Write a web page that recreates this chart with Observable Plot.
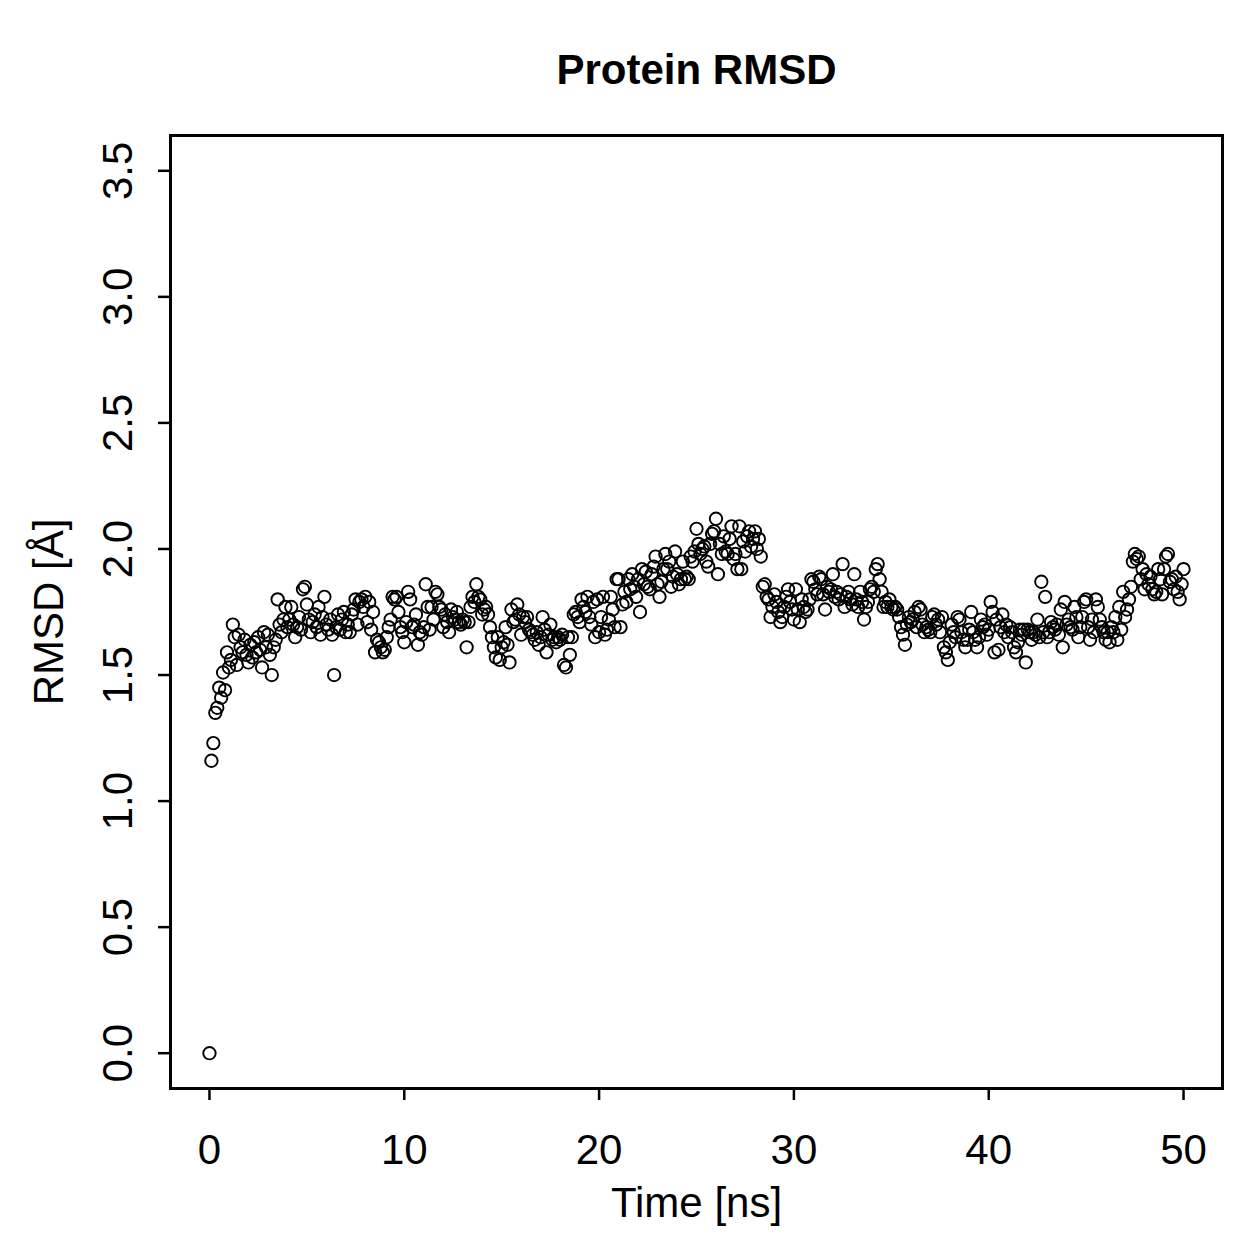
<!DOCTYPE html>
<html>
<head>
<meta charset="utf-8">
<script src="https://cdn.jsdelivr.net/npm/d3@7"></script>
<script src="https://cdn.jsdelivr.net/npm/@observablehq/plot@0.6"></script>
<style>
  body { margin: 0; background: #fff; }
</style>
</head>
<body>
<div id="chart"></div>
<script>
// Labels
const title = "Protein RMSD";
const xLabel = "Time [ns]";
const yLabel = "RMSD [Å]";

// Axis ticks
const xTicks = [0, 10, 20, 30, 40, 50];
const yTicks = [0, 0.5, 1, 1.5, 2, 2.5, 3, 3.5];

// Sampling interval of the trajectory (ns)
const timeStep = 0.1;

// Backbone RMSD (Å), one frame every 0.1 ns from 0 to 50 ns
const rmsd = [
  // 0.0 – 4.5 ns
  0, 1.16, 1.23, 1.35, 1.37, 1.45, 1.41, 1.51, 1.44, 1.59,
  1.53, 1.56, 1.70, 1.65, 1.54, 1.66, 1.61, 1.59, 1.64, 1.58,
  1.55, 1.62, 1.57, 1.63, 1.59, 1.65, 1.60, 1.53, 1.67, 1.61,
  1.66, 1.58, 1.50, 1.61, 1.64, 1.80, 1.70, 1.67, 1.72, 1.77,
  1.69, 1.72, 1.77, 1.70, 1.65, 1.69,
  // 4.6 – 9.5 ns
  1.73, 1.68, 1.84, 1.85, 1.78, 1.72, 1.67, 1.71, 1.74, 1.69,
  1.77, 1.66, 1.73, 1.81, 1.70, 1.68, 1.72, 1.66, 1.50, 1.69,
  1.74, 1.68, 1.72, 1.75, 1.67, 1.70, 1.67, 1.74, 1.76, 1.80,
  1.70, 1.79, 1.80, 1.77, 1.81, 1.71, 1.79, 1.68, 1.75, 1.59,
  1.64, 1.63, 1.61, 1.59, 1.60, 1.65, 1.69, 1.72, 1.81, 1.80,
  // 9.6 – 14.7 ns
  1.81, 1.75, 1.69, 1.67, 1.63, 1.71, 1.83, 1.80, 1.69, 1.70,
  1.74, 1.62, 1.67, 1.66, 1.69, 1.86, 1.77, 1.68, 1.77, 1.72,
  1.83, 1.82, 1.77, 1.76, 1.69, 1.74, 1.71, 1.67, 1.76, 1.73,
  1.72, 1.75, 1.71, 1.70, 1.72, 1.71, 1.61, 1.71, 1.77, 1.81,
  1.79, 1.86, 1.81, 1.80, 1.74, 1.76, 1.77, 1.74, 1.69, 1.65,
  1.61, 1.57,
  // 14.8 – 19.8 ns
  1.65, 1.56, 1.61, 1.63, 1.69, 1.62, 1.55, 1.76, 1.71, 1.72,
  1.78, 1.74, 1.66, 1.73, 1.71, 1.73, 1.68, 1.67, 1.66, 1.64,
  1.67, 1.62, 1.65, 1.73, 1.68, 1.59, 1.66, 1.70, 1.64, 1.65,
  1.63, 1.65, 1.64, 1.66, 1.54, 1.53, 1.65, 1.58, 1.65, 1.74,
  1.75, 1.73, 1.71, 1.80, 1.77, 1.75, 1.81, 1.73, 1.70, 1.79,
  1.65,
  // 19.9 – 25.0 ns
  1.80, 1.67, 1.73, 1.81, 1.66, 1.68, 1.72, 1.81, 1.76, 1.69,
  1.88, 1.88, 1.69, 1.78, 1.83, 1.79, 1.88, 1.84, 1.90, 1.85,
  1.81, 1.88, 1.75, 1.92, 1.86, 1.91, 1.85, 1.84, 1.90, 1.93,
  1.97, 1.86, 1.81, 1.87, 1.92, 1.98, 1.92, 1.95, 1.85, 1.89,
  1.99, 1.90, 1.86, 1.88, 1.95, 1.88, 1.89, 1.88, 1.97, 1.95,
  1.99, 2.08,
  // 25.1 – 30.0 ns
  2.02, 1.98, 2.00, 2.01, 1.95, 1.93, 2.02, 2.06, 2.07, 2.12,
  1.90, 2.02, 1.98, 2.05, 1.99, 1.98, 2.04, 2.09, 1.96, 1.98,
  1.92, 2.09, 1.92, 2.03, 1.99, 2.05, 2.07, 2.01, 2.04, 2.07,
  2.00, 2.04, 1.97, 1.85, 1.86, 1.81, 1.80, 1.73, 1.77, 1.82,
  1.79, 1.75, 1.71, 1.73, 1.77, 1.81, 1.84, 1.79, 1.76, 1.72,
  // 30.1 – 35.0 ns
  1.84, 1.76, 1.71, 1.80, 1.77, 1.75, 1.76, 1.80, 1.88, 1.87,
  1.84, 1.82, 1.89, 1.88, 1.82, 1.76, 1.85, 1.83, 1.84, 1.90,
  1.81, 1.83, 1.80, 1.82, 1.94, 1.77, 1.81, 1.83, 1.80, 1.78,
  1.90, 1.80, 1.77, 1.83, 1.79, 1.72, 1.77, 1.79, 1.84, 1.85,
  1.83, 1.92, 1.94, 1.88, 1.83, 1.77, 1.79, 1.77, 1.80, 1.77,
  // 35.1 – 40.4 ns
  1.76, 1.77, 1.76, 1.73, 1.69, 1.66, 1.62, 1.70, 1.73, 1.71,
  1.72, 1.75, 1.69, 1.77, 1.76, 1.70, 1.67, 1.69, 1.68, 1.67,
  1.73, 1.74, 1.70, 1.72, 1.67, 1.73, 1.61, 1.59, 1.56, 1.63,
  1.70, 1.67, 1.65, 1.73, 1.72, 1.67, 1.64, 1.61, 1.64, 1.68,
  1.75, 1.67, 1.64, 1.61, 1.65, 1.72, 1.69, 1.70, 1.66, 1.68,
  1.79, 1.75, 1.59, 1.72,
  // 40.5 – 45.4 ns
  1.60, 1.69, 1.74, 1.67, 1.70, 1.65, 1.69, 1.67, 1.61, 1.59,
  1.63, 1.68, 1.66, 1.68, 1.55, 1.68, 1.67, 1.64, 1.67, 1.66,
  1.72, 1.65, 1.87, 1.67, 1.81, 1.65, 1.67, 1.71, 1.69, 1.68,
  1.70, 1.66, 1.76, 1.61, 1.79, 1.70, 1.72, 1.69, 1.68, 1.77,
  1.73, 1.65, 1.69, 1.73, 1.79, 1.80, 1.69, 1.64, 1.72, 1.67,
  // 45.5 – 50.0 ns
  1.80, 1.77, 1.72, 1.69, 1.67, 1.64, 1.67, 1.63, 1.69, 1.67,
  1.73, 1.64, 1.77, 1.68, 1.83, 1.73, 1.76, 1.80, 1.85, 1.95,
  1.98, 1.96, 1.97, 1.88, 1.92, 1.84, 1.90, 1.86, 1.89, 1.84,
  1.82, 1.83, 1.92, 1.88, 1.82, 1.92, 1.97, 1.98, 1.87, 1.88,
  1.84, 1.89, 1.83, 1.80, 1.86, 1.92
];

// One record per frame: time index × sampling interval
const frames = rmsd.map((value, i) => ({ time: +(i * timeStep).toFixed(1), rmsd: value }));

const fontFamily = "'Liberation Sans', Arial, Helvetica, sans-serif";
const axisFont = 42;

const chart = Plot.plot({
  width: 1259,
  height: 1259,
  marginLeft: 170,
  marginRight: 37,
  marginTop: 135,
  marginBottom: 171,
  style: { fontFamily, background: "white", color: "black" },
  x: { domain: [-2, 52] },
  y: { domain: [-0.14, 3.64] },
  marks: [
    Plot.frame({ stroke: "black", strokeWidth: 3 }),
    Plot.axisX(xTicks, {
      tickSize: 12, tickPadding: 34, fontSize: axisFont,
      strokeWidth: 2.5, label: null
    }),
    Plot.axisY(yTicks, {
      tickSize: 12, tickFormat: () => "", strokeWidth: 2.5, label: null
    }),
    // y tick labels run parallel to the axis
    Plot.text(yTicks, {
      y: d => d, text: d => d.toFixed(1), frameAnchor: "left", dx: -52,
      rotate: -90, textAnchor: "middle", lineAnchor: "middle", fontSize: axisFont
    }),
    Plot.text([xLabel], {
      text: d => d, frameAnchor: "bottom", dy: 115,
      lineAnchor: "middle", fontSize: axisFont
    }),
    Plot.text([yLabel], {
      text: d => d, frameAnchor: "left", dx: -121, rotate: -90,
      textAnchor: "middle", lineAnchor: "middle", fontSize: axisFont
    }),
    Plot.text([title], {
      text: d => d, frameAnchor: "top", dy: -65,
      lineAnchor: "middle", fontSize: 42, fontWeight: "bold"
    }),
    Plot.dot(frames, {
      x: "time", y: "rmsd", r: 6.2,
      stroke: "black", strokeWidth: 1.9, fill: "none"
    })
  ]
});

document.getElementById("chart").appendChild(chart);
</script>
</body>
</html>
